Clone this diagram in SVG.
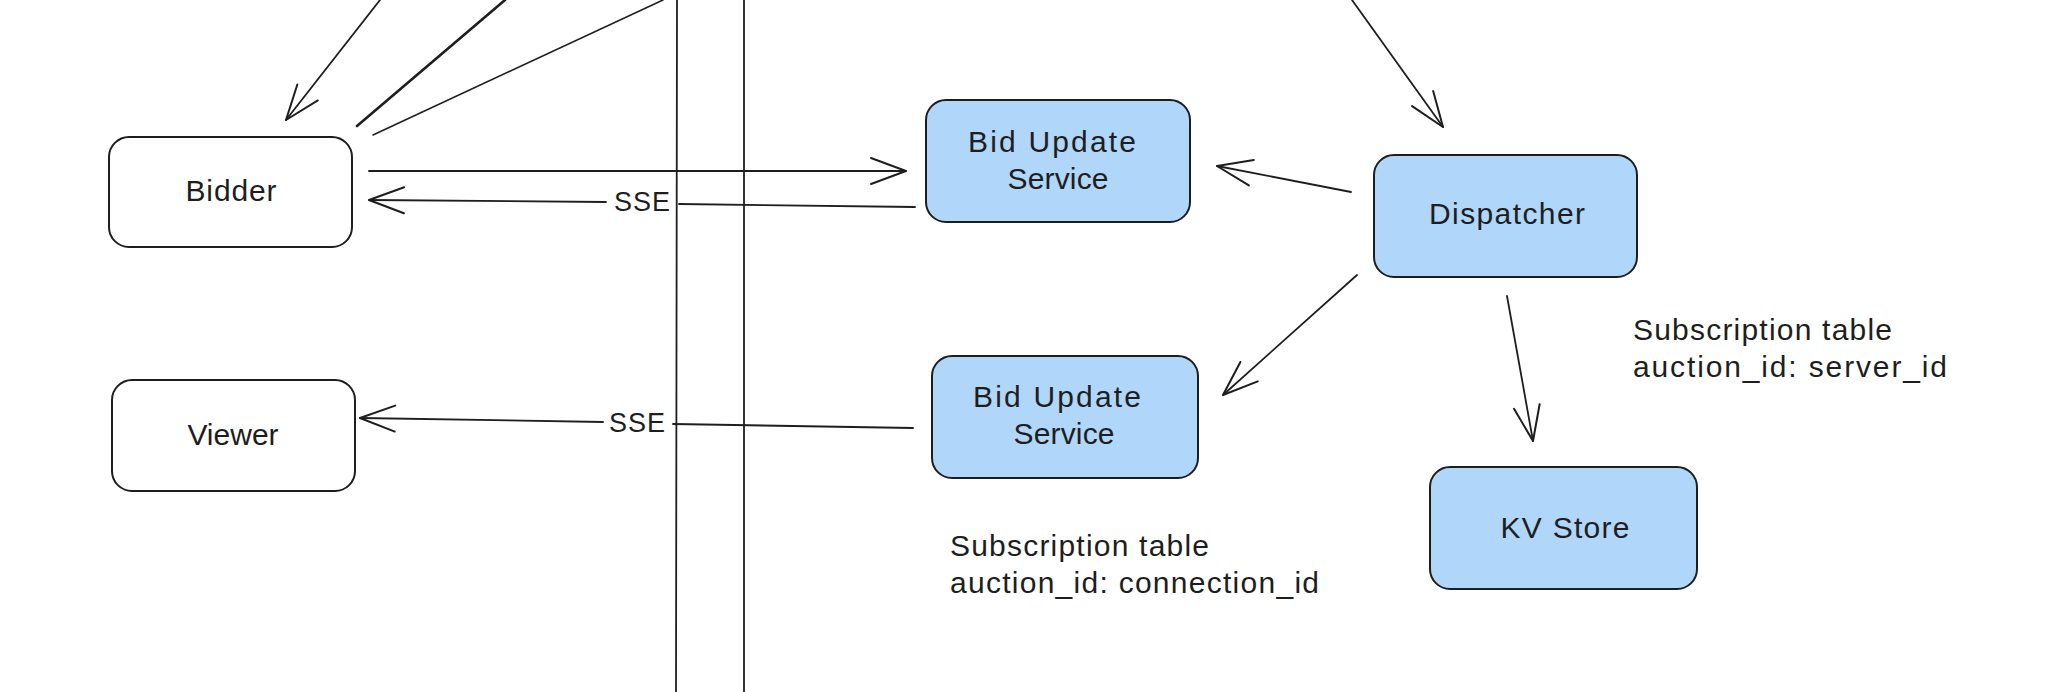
<svg xmlns="http://www.w3.org/2000/svg" width="2052" height="692" viewBox="0 0 2052 692">
<style>
.box{stroke:#1e1e1e;stroke-width:2;}
.w{fill:#ffffff;}
.b{fill:#b0d6fa;}
.t{font-family:"Liberation Sans","DejaVu Sans",sans-serif;font-size:30px;fill:#1e1e1e;}
.s{font-size:27px;}
.c{text-anchor:middle;}
.ln{fill:none;stroke:#1e1e1e;stroke-width:1.8;stroke-linecap:round;}
.arr{marker-end:url(#ah);}
</style>
<defs>
<marker id="ah" markerUnits="userSpaceOnUse" markerWidth="40" markerHeight="30" viewBox="0 0 40 30" refX="37" refY="15" orient="auto" overflow="visible">
<path d="M2,2 L37,15 L2,28" fill="none" stroke="#1e1e1e" stroke-width="2" stroke-linecap="round" stroke-linejoin="round"/>
</marker>
</defs>
<rect width="2052" height="692" fill="#ffffff"/>
<g id="connectors">
<path class="ln" d="M677,0 L676,692"/>
<path class="ln" d="M744,0 L744,692"/>
<path class="ln arr" d="M380,0 L286,120"/>
<path class="ln" d="M505,0 L357,126" style="stroke-width:2.6"/>
<path class="ln" d="M663,0 L373,135" style="stroke-width:1.6"/>
<path class="ln arr" d="M369,171 L906,171"/>
<path class="ln arr" d="M915,207 L679,204 M606,202 L369,200"/>
<path class="ln arr" d="M913,428 L673,424 M603,422 L360,418"/>
<path class="ln arr" d="M1352,0 L1443,127"/>
<path class="ln arr" d="M1351,192 L1217,166"/>
<path class="ln arr" d="M1357,275 L1223,395"/>
<path class="ln arr" d="M1507,296 L1533,441"/>
<text class="t s c" x="642" y="211" textLength="56">SSE</text>
<text class="t s c" x="637" y="432" textLength="56">SSE</text>
</g>
<g id="bidder">
<rect class="box w" x="109" y="137" width="243" height="110" rx="20"/>
<text class="t c" x="231" y="201" textLength="91">Bidder</text>
</g>
<g id="viewer">
<rect class="box w" x="112" y="380" width="243" height="111" rx="20"/>
<text class="t c" x="233" y="445">Viewer</text>
</g>
<g id="bid-update-service-1">
<rect class="box b" x="926" y="100" width="264" height="122" rx="20"/>
<text class="t c" x="1052" y="152" textLength="168">Bid Update</text>
<text class="t c" x="1058" y="189" textLength="101">Service</text>
</g>
<g id="bid-update-service-2">
<rect class="box b" x="932" y="356" width="266" height="122" rx="20"/>
<text class="t c" x="1057" y="407" textLength="168">Bid Update</text>
<text class="t c" x="1064" y="444" textLength="101">Service</text>
</g>
<g id="dispatcher">
<rect class="box b" x="1374" y="155" width="263" height="122" rx="20"/>
<text class="t c" x="1507" y="224" textLength="156">Dispatcher</text>
</g>
<g id="kv-store">
<rect class="box b" x="1430" y="467" width="267" height="122" rx="20"/>
<text class="t c" x="1565" y="538" textLength="129">KV Store</text>
</g>
<g id="note-dispatcher">
<text class="t" x="1633" y="340" textLength="259">Subscription table</text>
<text class="t" x="1633" y="377" textLength="314">auction_id: server_id</text>
</g>
<g id="note-bus">
<text class="t" x="950" y="556" textLength="259">Subscription table</text>
<text class="t" x="950" y="593" textLength="369">auction_id: connection_id</text>
</g>
</svg>
